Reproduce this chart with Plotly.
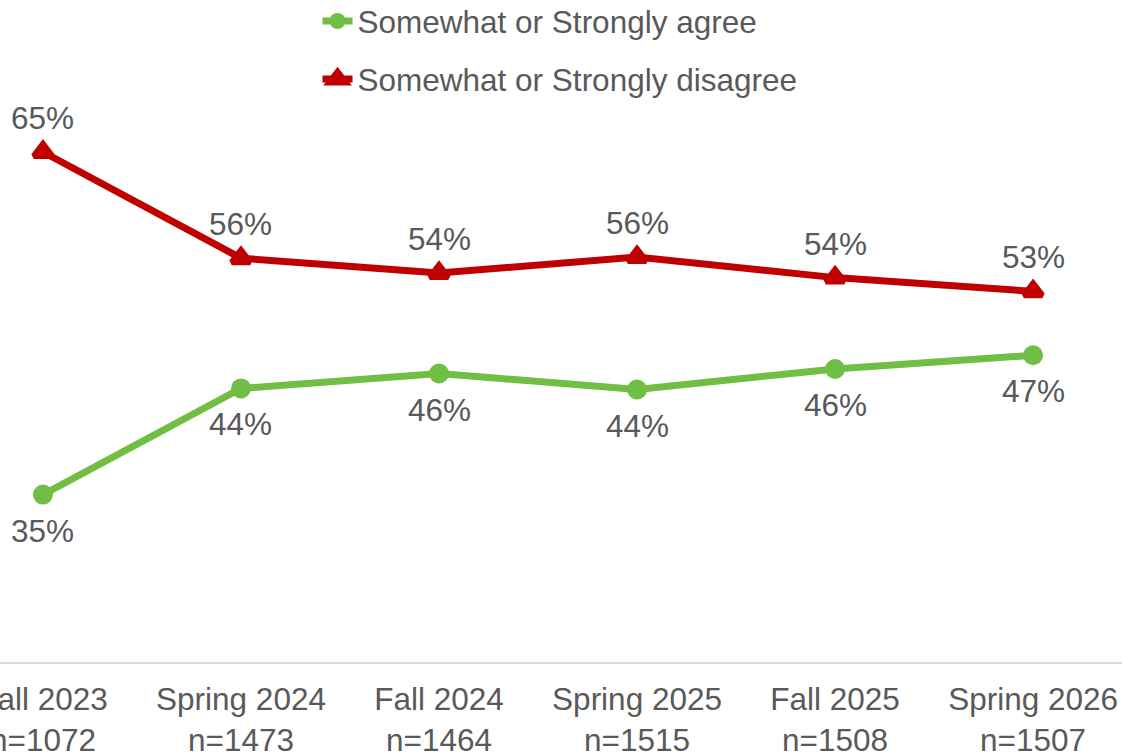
import plotly.graph_objects as go

categories = ["Fall 2023<br>n=1072", "Spring 2024<br>n=1473", "Fall 2024<br>n=1464",
              "Spring 2025<br>n=1515", "Fall 2025<br>n=1508", "Spring 2026<br>n=1507"]
agree = [35.0, 44.3, 45.6, 44.2, 46.0, 47.2]
disagree = [65.0, 55.7, 54.4, 55.8, 54.0, 52.8]

FONT = "Liberation Sans, Arial, sans-serif"
GREY = "#595959"
GREEN = "#70BF44"
RED = "#C00000"

fig = go.Figure()
fig.add_trace(go.Scatter(
    x=categories, y=agree, name="Somewhat or Strongly agree",
    mode="lines+markers", legendgroup="a",
    line=dict(color=GREEN, width=7),
    marker=dict(color=GREEN, size=20, symbol="circle"),
    cliponaxis=False,
))
fig.add_trace(go.Scatter(
    x=categories, y=disagree, name="Somewhat or Strongly disagree",
    mode="lines+markers", legendgroup="b",
    line=dict(color=RED, width=7),
    marker=dict(color=RED, size=16, symbol="triangle-up",
                line=dict(color=RED, width=6)),
    cliponaxis=False,
))

for c, v in zip(categories, agree):
    fig.add_annotation(x=c, y=v, text=f"{v:.0f}%", showarrow=False, yshift=-36,
                       font=dict(family=FONT, size=31.5, color=GREY))
for c, v in zip(categories, disagree):
    fig.add_annotation(x=c, y=v, text=f"{v:.0f}%", showarrow=False, yshift=34,
                       font=dict(family=FONT, size=31.5, color=GREY))

fig.update_layout(
    width=1122, height=752,
    margin=dict(l=0, r=0, t=0, b=90, autoexpand=False),
    paper_bgcolor="white", plot_bgcolor="white",
    font=dict(family=FONT, size=31.5, color=GREY),
    showlegend=True,
    legend=dict(x=0.283, y=1.009, xanchor="left", yanchor="top",
                orientation="v", tracegroupgap=14,
                font=dict(family=FONT, size=31.5, color=GREY),
                bgcolor="rgba(0,0,0,0)", borderwidth=0),
    xaxis=dict(type="category", range=[-0.217, 5.449], automargin=False,
               showgrid=False, zeroline=False,
               showline=True, linecolor="#D9D9D9", linewidth=2,
               ticks="", ticklabelstandoff=8,
               tickfont=dict(family=FONT, size=31.5, color=GREY),
               ticklabeloverflow="allow"),
    yaxis=dict(range=[20.34, 78.31], visible=False, showgrid=False, zeroline=False,
               automargin=False),
)

fig.write_html("out.html", config={"displayModeBar": False},
               post_script="document.body.style.margin='0';document.body.style.overflow='hidden';")
